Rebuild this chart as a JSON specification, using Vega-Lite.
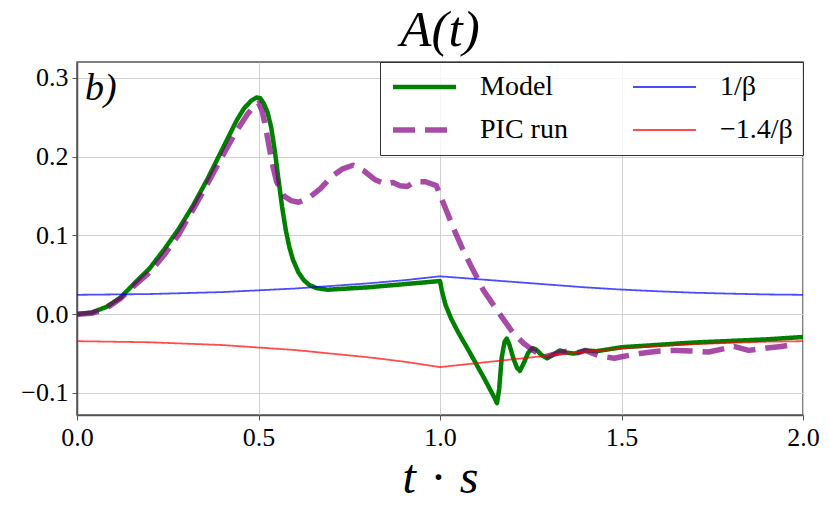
{
  "$schema": "https://vega.github.io/schema/vega-lite/v6.json",
  "width": 726,
  "height": 353,
  "autosize": {"type": "none"},
  "padding": {"left": 77, "top": 62, "right": 27, "bottom": 97},
  "background": "white",
  "title": {
    "text": "A(t)",
    "font": "Liberation Serif",
    "fontStyle": "italic",
    "fontWeight": "normal",
    "fontSize": 51,
    "color": "#000",
    "anchor": "middle",
    "frame": "group",
    "baseline": "alphabetic",
    "offset": 15,
    "dy": 50
  },
  "config": {
    "view": {"stroke": "#555", "strokeWidth": 1.5},
    "axis": {
      "labelFont": "Liberation Serif",
      "labelFontSize": 26,
      "labelColor": "#000",
      "labelFlush": false,
      "domainColor": "#555",
      "domainWidth": 1.5,
      "tickColor": "#555",
      "tickSize": 5,
      "labelPadding": 4,
      "gridColor": "#d0d0d0",
      "gridWidth": 1
    },
    "legend": {
      "orient": "top-right",
      "offset": 0,
      "columns": 2,
      "symbolType": "stroke",
      "symbolSize": 3969,
      "clipHeight": 30,
      "rowPadding": 13,
      "columnPadding": 62,
      "labelOffset": 21,
      "labelFont": "Liberation Serif",
      "labelFontSize": 28,
      "labelColor": "#000",
      "padding": 10,
      "fillColor": "rgba(255,255,255,0.8)",
      "strokeColor": "#333",
      "cornerRadius": 0
    }
  },
  "layer": [
    {
      "data": {
        "values": [
          {"t": 0.00, "A": 0.000, "s": "Model"},
          {"t": 0.04, "A": 0.002, "s": "Model"},
          {"t": 0.08, "A": 0.009, "s": "Model"},
          {"t": 0.12, "A": 0.021, "s": "Model"},
          {"t": 0.16, "A": 0.040, "s": "Model"},
          {"t": 0.20, "A": 0.058, "s": "Model"},
          {"t": 0.24, "A": 0.082, "s": "Model"},
          {"t": 0.28, "A": 0.108, "s": "Model"},
          {"t": 0.32, "A": 0.138, "s": "Model"},
          {"t": 0.36, "A": 0.172, "s": "Model"},
          {"t": 0.40, "A": 0.209, "s": "Model"},
          {"t": 0.44, "A": 0.246, "s": "Model"},
          {"t": 0.46, "A": 0.261, "s": "Model"},
          {"t": 0.48, "A": 0.271, "s": "Model"},
          {"t": 0.495, "A": 0.275, "s": "Model"},
          {"t": 0.505, "A": 0.274, "s": "Model"},
          {"t": 0.515, "A": 0.267, "s": "Model"},
          {"t": 0.525, "A": 0.256, "s": "Model"},
          {"t": 0.535, "A": 0.237, "s": "Model"},
          {"t": 0.545, "A": 0.207, "s": "Model"},
          {"t": 0.555, "A": 0.171, "s": "Model"},
          {"t": 0.565, "A": 0.136, "s": "Model"},
          {"t": 0.575, "A": 0.107, "s": "Model"},
          {"t": 0.585, "A": 0.085, "s": "Model"},
          {"t": 0.595, "A": 0.069, "s": "Model"},
          {"t": 0.61, "A": 0.053, "s": "Model"},
          {"t": 0.625, "A": 0.043, "s": "Model"},
          {"t": 0.64, "A": 0.037, "s": "Model"},
          {"t": 0.66, "A": 0.033, "s": "Model"},
          {"t": 0.69, "A": 0.031, "s": "Model"},
          {"t": 0.80, "A": 0.034, "s": "Model"},
          {"t": 0.90, "A": 0.038, "s": "Model"},
          {"t": 1.00, "A": 0.042, "s": "Model"},
          {"t": 1.005, "A": 0.030, "s": "Model"},
          {"t": 1.015, "A": 0.012, "s": "Model"},
          {"t": 1.03, "A": -0.005, "s": "Model"},
          {"t": 1.05, "A": -0.023, "s": "Model"},
          {"t": 1.08, "A": -0.047, "s": "Model"},
          {"t": 1.12, "A": -0.080, "s": "Model"},
          {"t": 1.15, "A": -0.106, "s": "Model"},
          {"t": 1.157, "A": -0.113, "s": "Model"},
          {"t": 1.163, "A": -0.095, "s": "Model"},
          {"t": 1.170, "A": -0.055, "s": "Model"},
          {"t": 1.178, "A": -0.035, "s": "Model"},
          {"t": 1.184, "A": -0.031, "s": "Model"},
          {"t": 1.192, "A": -0.040, "s": "Model"},
          {"t": 1.202, "A": -0.056, "s": "Model"},
          {"t": 1.212, "A": -0.068, "s": "Model"},
          {"t": 1.220, "A": -0.072, "s": "Model"},
          {"t": 1.230, "A": -0.063, "s": "Model"},
          {"t": 1.243, "A": -0.049, "s": "Model"},
          {"t": 1.255, "A": -0.043, "s": "Model"},
          {"t": 1.265, "A": -0.045, "s": "Model"},
          {"t": 1.280, "A": -0.052, "s": "Model"},
          {"t": 1.295, "A": -0.056, "s": "Model"},
          {"t": 1.31, "A": -0.052, "s": "Model"},
          {"t": 1.33, "A": -0.046, "s": "Model"},
          {"t": 1.35, "A": -0.049, "s": "Model"},
          {"t": 1.37, "A": -0.050, "s": "Model"},
          {"t": 1.40, "A": -0.046, "s": "Model"},
          {"t": 1.43, "A": -0.047, "s": "Model"},
          {"t": 1.46, "A": -0.045, "s": "Model"},
          {"t": 1.50, "A": -0.042, "s": "Model"},
          {"t": 1.60, "A": -0.039, "s": "Model"},
          {"t": 1.70, "A": -0.036, "s": "Model"},
          {"t": 1.80, "A": -0.034, "s": "Model"},
          {"t": 1.90, "A": -0.032, "s": "Model"},
          {"t": 2.00, "A": -0.029, "s": "Model"},

          {"t": 0.00, "A": 0.000, "s": "PIC run"},
          {"t": 0.04, "A": 0.001, "s": "PIC run"},
          {"t": 0.08, "A": 0.007, "s": "PIC run"},
          {"t": 0.12, "A": 0.020, "s": "PIC run"},
          {"t": 0.16, "A": 0.037, "s": "PIC run"},
          {"t": 0.20, "A": 0.053, "s": "PIC run"},
          {"t": 0.24, "A": 0.075, "s": "PIC run"},
          {"t": 0.28, "A": 0.101, "s": "PIC run"},
          {"t": 0.32, "A": 0.133, "s": "PIC run"},
          {"t": 0.36, "A": 0.166, "s": "PIC run"},
          {"t": 0.40, "A": 0.200, "s": "PIC run"},
          {"t": 0.44, "A": 0.233, "s": "PIC run"},
          {"t": 0.47, "A": 0.254, "s": "PIC run"},
          {"t": 0.49, "A": 0.265, "s": "PIC run"},
          {"t": 0.50, "A": 0.268, "s": "PIC run"},
          {"t": 0.51, "A": 0.258, "s": "PIC run"},
          {"t": 0.52, "A": 0.236, "s": "PIC run"},
          {"t": 0.53, "A": 0.211, "s": "PIC run"},
          {"t": 0.54, "A": 0.187, "s": "PIC run"},
          {"t": 0.55, "A": 0.168, "s": "PIC run"},
          {"t": 0.57, "A": 0.150, "s": "PIC run"},
          {"t": 0.59, "A": 0.144, "s": "PIC run"},
          {"t": 0.61, "A": 0.142, "s": "PIC run"},
          {"t": 0.64, "A": 0.148, "s": "PIC run"},
          {"t": 0.67, "A": 0.159, "s": "PIC run"},
          {"t": 0.70, "A": 0.174, "s": "PIC run"},
          {"t": 0.73, "A": 0.184, "s": "PIC run"},
          {"t": 0.76, "A": 0.189, "s": "PIC run"},
          {"t": 0.79, "A": 0.182, "s": "PIC run"},
          {"t": 0.82, "A": 0.171, "s": "PIC run"},
          {"t": 0.85, "A": 0.165, "s": "PIC run"},
          {"t": 0.87, "A": 0.167, "s": "PIC run"},
          {"t": 0.89, "A": 0.163, "s": "PIC run"},
          {"t": 0.91, "A": 0.162, "s": "PIC run"},
          {"t": 0.93, "A": 0.168, "s": "PIC run"},
          {"t": 0.96, "A": 0.168, "s": "PIC run"},
          {"t": 0.99, "A": 0.163, "s": "PIC run"},
          {"t": 1.01, "A": 0.140, "s": "PIC run"},
          {"t": 1.04, "A": 0.106, "s": "PIC run"},
          {"t": 1.06, "A": 0.085, "s": "PIC run"},
          {"t": 1.08, "A": 0.066, "s": "PIC run"},
          {"t": 1.12, "A": 0.030, "s": "PIC run"},
          {"t": 1.16, "A": 0.003, "s": "PIC run"},
          {"t": 1.20, "A": -0.023, "s": "PIC run"},
          {"t": 1.23, "A": -0.037, "s": "PIC run"},
          {"t": 1.26, "A": -0.047, "s": "PIC run"},
          {"t": 1.29, "A": -0.054, "s": "PIC run"},
          {"t": 1.32, "A": -0.050, "s": "PIC run"},
          {"t": 1.35, "A": -0.047, "s": "PIC run"},
          {"t": 1.38, "A": -0.049, "s": "PIC run"},
          {"t": 1.40, "A": -0.046, "s": "PIC run"},
          {"t": 1.44, "A": -0.053, "s": "PIC run"},
          {"t": 1.48, "A": -0.056, "s": "PIC run"},
          {"t": 1.50, "A": -0.054, "s": "PIC run"},
          {"t": 1.55, "A": -0.050, "s": "PIC run"},
          {"t": 1.60, "A": -0.047, "s": "PIC run"},
          {"t": 1.65, "A": -0.046, "s": "PIC run"},
          {"t": 1.70, "A": -0.047, "s": "PIC run"},
          {"t": 1.74, "A": -0.048, "s": "PIC run"},
          {"t": 1.78, "A": -0.044, "s": "PIC run"},
          {"t": 1.81, "A": -0.041, "s": "PIC run"},
          {"t": 1.85, "A": -0.046, "s": "PIC run"},
          {"t": 1.90, "A": -0.043, "s": "PIC run"},
          {"t": 1.94, "A": -0.041, "s": "PIC run"},
          {"t": 1.98, "A": -0.038, "s": "PIC run"},

          {"t": 0.0, "A": 0.0245, "s": "1/β"},
          {"t": 0.2, "A": 0.0255, "s": "1/β"},
          {"t": 0.4, "A": 0.0280, "s": "1/β"},
          {"t": 0.6, "A": 0.0325, "s": "1/β"},
          {"t": 0.8, "A": 0.0390, "s": "1/β"},
          {"t": 0.9, "A": 0.0430, "s": "1/β"},
          {"t": 1.0, "A": 0.0480, "s": "1/β"},
          {"t": 1.1, "A": 0.0445, "s": "1/β"},
          {"t": 1.2, "A": 0.0410, "s": "1/β"},
          {"t": 1.3, "A": 0.0375, "s": "1/β"},
          {"t": 1.4, "A": 0.0340, "s": "1/β"},
          {"t": 1.5, "A": 0.0312, "s": "1/β"},
          {"t": 1.6, "A": 0.0290, "s": "1/β"},
          {"t": 1.7, "A": 0.0272, "s": "1/β"},
          {"t": 1.8, "A": 0.0260, "s": "1/β"},
          {"t": 1.9, "A": 0.0250, "s": "1/β"},
          {"t": 2.0, "A": 0.0245, "s": "1/β"},

          {"t": 0.0, "A": -0.0343, "s": "−1.4/β"},
          {"t": 0.2, "A": -0.0357, "s": "−1.4/β"},
          {"t": 0.4, "A": -0.0392, "s": "−1.4/β"},
          {"t": 0.6, "A": -0.0455, "s": "−1.4/β"},
          {"t": 0.8, "A": -0.0546, "s": "−1.4/β"},
          {"t": 0.9, "A": -0.0602, "s": "−1.4/β"},
          {"t": 1.0, "A": -0.0672, "s": "−1.4/β"},
          {"t": 1.1, "A": -0.0623, "s": "−1.4/β"},
          {"t": 1.2, "A": -0.0574, "s": "−1.4/β"},
          {"t": 1.3, "A": -0.0525, "s": "−1.4/β"},
          {"t": 1.4, "A": -0.0476, "s": "−1.4/β"},
          {"t": 1.5, "A": -0.0437, "s": "−1.4/β"},
          {"t": 1.6, "A": -0.0406, "s": "−1.4/β"},
          {"t": 1.7, "A": -0.0381, "s": "−1.4/β"},
          {"t": 1.8, "A": -0.0364, "s": "−1.4/β"},
          {"t": 1.9, "A": -0.0350, "s": "−1.4/β"},
          {"t": 2.0, "A": -0.0343, "s": "−1.4/β"}
        ]
      },
      "mark": {"type": "line", "clip": true, "strokeJoin": "round"},
      "encoding": {
        "x": {
          "field": "t", "type": "quantitative",
          "scale": {"domain": [0, 2], "nice": false, "zero": false},
          "axis": {
            "values": [0, 0.5, 1, 1.5, 2],
            "format": ".1f",
            "title": "t\u2004·\u2004s",
            "titleFont": "Liberation Serif",
            "titleFontStyle": "italic",
            "titleFontWeight": "normal",
            "titleFontSize": 48,
            "titleColor": "#000",
            "titleBaseline": "alphabetic",
            "titleY": 77
          }
        },
        "y": {
          "field": "A", "type": "quantitative",
          "scale": {"domain": [-0.128, 0.32], "nice": false, "zero": false},
          "axis": {
            "values": [-0.1, 0, 0.1, 0.2, 0.3],
            "format": ".1f",
            "labelExpr": "replace(datum.label, '-', '−')",
            "title": null
          }
        },
        "color": {
          "field": "s", "type": "nominal",
          "scale": {
            "domain": ["Model", "PIC run", "1/β", "−1.4/β"],
            "range": ["#008000", "rgba(128,0,128,0.7)", "rgba(0,0,255,0.7)", "rgba(255,0,0,0.7)"]
          },
          "legend": {"title": null}
        },
        "strokeDash": {
          "field": "s", "type": "nominal",
          "scale": {
            "domain": ["Model", "PIC run", "1/β", "−1.4/β"],
            "range": [[1, 0], [22, 10], [1, 0], [1, 0]]
          },
          "legend": {"title": null}
        },
        "strokeWidth": {
          "field": "s", "type": "nominal",
          "scale": {
            "type": "ordinal",
            "domain": ["Model", "PIC run", "1/β", "−1.4/β"],
            "range": [4.5, 5.5, 1.8, 1.8]
          },
          "legend": {"title": null}
        },
        "order": {"field": "t", "type": "quantitative"}
      }
    },
    {
      "data": {"values": [{"t": 0.022, "A": 0.272, "label": "b)"}]},
      "mark": {
        "type": "text",
        "align": "left",
        "baseline": "alphabetic",
        "font": "Liberation Serif",
        "fontStyle": "italic",
        "fontSize": 38,
        "color": "#000"
      },
      "encoding": {
        "x": {"field": "t", "type": "quantitative"},
        "y": {"field": "A", "type": "quantitative"},
        "text": {"field": "label"}
      }
    }
  ]
}
